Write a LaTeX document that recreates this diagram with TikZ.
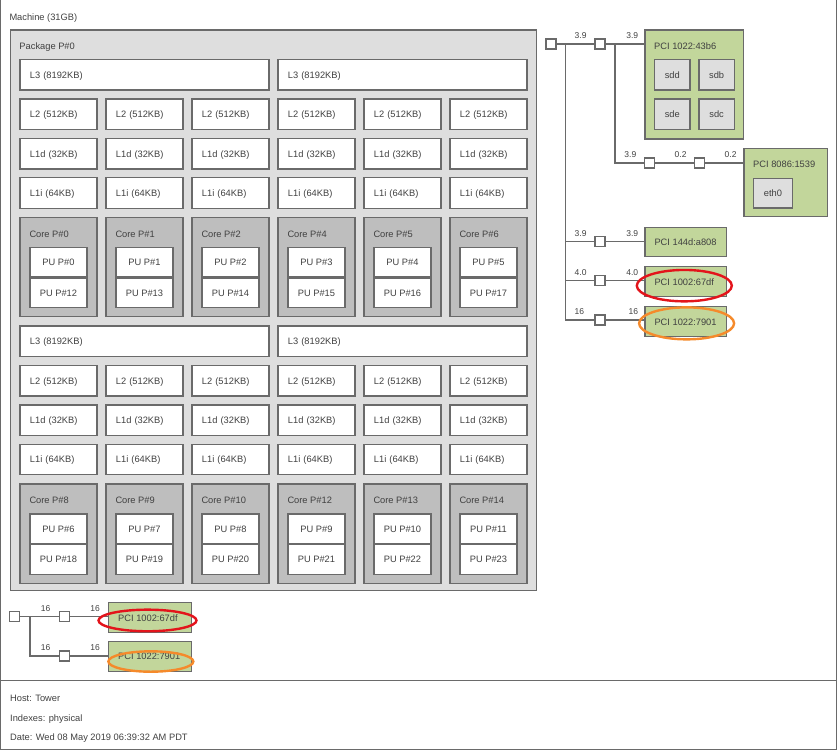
\documentclass[tikz,border=0pt]{standalone}
\usepackage{fontspec}
\setmainfont{Liberation Sans}
\usetikzlibrary{calc}
\definecolor{bord}{HTML}{6A6A6A}
\definecolor{txt}{HTML}{404040}
\definecolor{pkgc}{HTML}{DEDEDE}
\definecolor{corec}{HTML}{BEBEBE}
\definecolor{pcic}{HTML}{C2D69B}
\definecolor{osdc}{HTML}{DEDEDE}
\definecolor{redring}{HTML}{E3141B}
\definecolor{orring}{HTML}{F58A2B}
\tikzset{
  every node/.style={font=\fontsize{9.3}{11}\selectfont, text=txt, inner sep=0pt, text height=6.8pt, text depth=0pt},
  box/.style={draw=bord, line width=1.3pt, rectangle, anchor=north west},
  cache/.style={box, fill=white, align=left, inner xsep=10pt, inner ysep=0pt, minimum height=30.5pt},
  smallcache/.style={cache, text width=57pt},
  widecache/.style={cache, text width=229pt},
  corebox/.style={box, fill=corec, minimum width=77pt, minimum height=99.3pt},
  pubox/.style={box, fill=white, minimum width=57pt, minimum height=29.5pt},
  lbl/.style={anchor=west},
  pcibox/.style={box, fill=pcic},
  osdev/.style={box, fill=osdc, minimum width=35.3pt, minimum height=30.5pt},
  port/.style={draw=bord, line width=1.3pt, fill=white, rectangle, minimum size=10pt},
  wire/.style={draw=bord, line width=1.3pt},
  spdl/.style={anchor=south west, font=\fontsize{8.5}{10}\selectfont},
  spdr/.style={anchor=south east, font=\fontsize{8.5}{10}\selectfont},
  ring/.style={line width=2.4pt}
}
\begin{document}
\begin{tikzpicture}[x=1pt,y=-1pt]
\useasboundingbox (0,0) rectangle (837,750);
% outer frame and legend separator
\draw[draw=bord, line width=1.3pt] (0.7,0) -- (0.7,749.3) -- (836.3,749.3) -- (836.3,0);
\coordinate (sepl) at (0,680.7);
\coordinate (sepr) at (837,680.7);
\draw[draw=bord, line width=1.3pt] (sepl) -- (sepr);
\node[lbl] (machl) at (9.3,16.7) {Machine (31GB)};
% package
\node[box, fill=pkgc, minimum width=526pt, minimum height=560.7pt] (pkg) at (9.5,29.3) {};
\node[lbl] (pkgl) at (19.3,45.7) {Package P\#0};
% two groups
\foreach \g/\yo in {0/58.7, 1/325.2} {
  \node[widecache] (l3-\g-0) at (19.3,\yo) {L3 (8192KB)};
  \node[widecache] (l3-\g-1) at (277.3,\yo) {L3 (8192KB)};
  \foreach \i in {0,...,5} {
    \pgfmathsetmacro\xx{19.3+86*\i}
    \node[smallcache] (l2-\g-\i) at (\xx,\yo+39.5) {L2 (512KB)};
    \node[smallcache] (l1d-\g-\i) at (\xx,\yo+79) {L1d (32KB)};
    \node[smallcache] (l1i-\g-\i) at (\xx,\yo+118.3) {L1i (64KB)};
  }
}
\foreach \i/\c/\pa/\pb in {0/0/0/12, 1/1/1/13, 2/2/2/14, 3/4/3/15, 4/5/4/16, 5/6/5/17,
                          0/8/6/18, 1/9/7/19, 2/10/8/20, 3/12/9/21, 4/13/10/22, 5/14/11/23} {
  \pgfmathsetmacro\xx{19.3+86*\i}
  \pgfmathsetmacro\yy{\c<7 ? 216.7 : 483.2}
  \node[corebox] (core-\c) at (\xx,\yy) {};
  \node[lbl] (corel-\c) at ([xshift=10pt,yshift=-17pt]core-\c.north west) {Core P\#\c};
  \node[pubox] (pu-\pa) at ([xshift=10pt,yshift=-30pt]core-\c.north west) {PU P\#\pa};
  \node[pubox] (pu-\pb) at (pu-\pa.south west) {PU P\#\pb};
}
% right I/O tree
\node[port] (hb1) at (551,44) {};
\node[port] (br1) at (600,44) {};
\coordinate (j1) at (565.3,44);
\coordinate (j1b) at (565.3,320);
\draw[wire] (hb1) -- (br1);
\draw[wire] (j1) -- (j1b);
\node[spdl] (s1) at (574.5,38.5) {3.9};
\node[pcibox, minimum width=98.4pt, minimum height=109pt] (p43b6) at (644.3,29.3) {};
\node[lbl] (p43b6l) at (654,46.5) {PCI 1022:43b6};
\draw[wire] (br1.east) -- (br1.east -| p43b6.west);
\node[spdr] (s2) at (638.3,38.5) {3.9};
\node[osdev] (sdd) at (654,58.7) {sdd};
\node[osdev] (sdb) at (698.3,58.7) {sdb};
\node[osdev] (sde) at (654,98.3) {sde};
\node[osdev] (sdc) at (698.3,98.3) {sdc};
\coordinate (j2) at (615,44);
\coordinate (j2b) at (615,163);
\node[port] (br2) at (649.5,163) {};
\node[port] (br3) at (699.2,163) {};
\node[pcibox, minimum width=83.7pt, minimum height=68.3pt] (p1539) at (743.3,147.7) {};
\node[lbl] (p1539l) at (753,164.5) {PCI 8086:1539};
\node[osdev, minimum width=38.7pt, minimum height=29.6pt] (eth0) at (753,177.7) {eth0};
\draw[wire] (j2) -- (j2b) -- (br2);
\draw[wire] (br2) -- (br3);
\draw[wire] (br3.east) -- (br3.east -| p1539.west);
\node[spdr] (s3) at (636.5,157.5) {3.9};
\node[spdr] (s4) at (686.7,157.5) {0.2};
\node[spdr] (s5) at (736.7,157.5) {0.2};
% three more branches
\foreach \n/\y/\top/\h/\txt/\sp in {p808/241.7/226.7/29.3/PCI 144d:a808/3.9, p67df/280.7/266/30/PCI 1002:67df/4.0, p7901/320/306/30/PCI 1022:7901/16} {
  \coordinate (j-\n) at (565.3,\y);
  \node[port] (br-\n) at (600,\y) {};
  \node[pcibox, minimum width=81.7pt, minimum height=\h pt] (\n) at (644.3,\top) {};
  \node[lbl] (\n-l) at ([xshift=10pt]\n.west) {\txt};
  \draw[wire] (j-\n) -- (br-\n);
  \draw[wire] (br-\n.east) -- (br-\n.east -| \n.west);
  \node[spdl] (sl-\n) at (574.5,\y-5.5) {\sp};
  \node[spdr] (sr-\n) at (638.3,\y-5.5) {\sp};
}
\draw[ring, draw=redring] ([xshift=-1.5pt,yshift=-4pt]p67df.center) ellipse [x radius=47.5pt, y radius=15.7pt];
\draw[ring, draw=orring] ([xshift=0.8pt,yshift=-1.7pt]p7901.center) ellipse [x radius=47.5pt, y radius=16pt];
% bottom-left I/O tree
\node[port] (hb2) at (14.7,616.3) {};
\coordinate (j3) at (30,616.3);
\coordinate (j3b) at (30,656);
\node[port] (bb1) at (64.2,616.3) {};
\node[port] (bb2) at (64.2,656) {};
\node[pcibox, minimum width=82.7pt, minimum height=30pt] (b67df) at (108,602) {};
\node[lbl] (b67dfl) at ([xshift=10pt]b67df.west) {PCI 1002:67df};
\node[pcibox, minimum width=83pt, minimum height=29.7pt] (b7901) at (108,641) {};
\node[lbl] (b7901l) at ([xshift=10pt]b7901.west) {PCI 1022:7901};
\draw[wire] (hb2) -- (bb1);
\draw[wire] (j3) -- (j3b) -- (bb2);
\draw[wire] (bb1.east) -- (bb1.east -| b67df.west);
\draw[wire] (bb2.east) -- (bb2.east -| b7901.west);
\node[spdl] (bs1) at (40.7,611.5) {16};
\node[spdr] (bs2) at (100,611.5) {16};
\node[spdl] (bs3) at (40.7,651) {16};
\node[spdr] (bs4) at (100,651) {16};
\draw[ring, draw=redring] ([xshift=-2.5pt,yshift=-2.8pt]b67df.center) ellipse [x radius=49pt, y radius=10.8pt];
\draw[ring, draw=orring] ([xshift=0.7pt,yshift=-5pt]b7901.center) ellipse [x radius=42.5pt, y radius=10.2pt];
% legend
\node[lbl] (host) at (10,697.7) {Host: Tower};
\node[lbl] (idx) at (10,717.7) {Indexes: physical};
\node[lbl] (date) at (10,736.7) {Date: Wed 08 May 2019 06:39:32 AM PDT};
\end{tikzpicture}
\end{document}
